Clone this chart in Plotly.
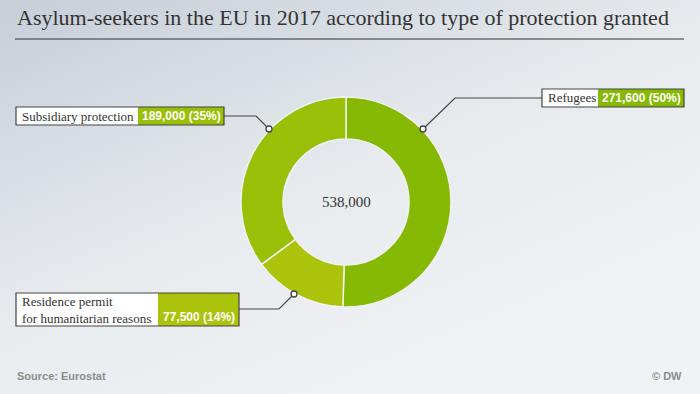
import math
import plotly.graph_objects as go

# ---- data ----
categories = ["Refugees", "Residence permit<br>for humanitarian reasons", "Subsidiary protection"]
values = [271600, 77500, 189000]
value_labels = ["271,600 (50%)", "77,500 (14%)", "189,000 (35%)"]
total_label = "538,000"
colors = ["#86b904", "#abc30b", "#99bf06"]

W, H = 700, 394
CX, CY, R_OUT, HOLE = 346, 202, 105, 0.6

def px(x):
    return x / W

def py(y):
    return 1 - y / H

fig = go.Figure()

# background gradient via SVG data URI
svg = ("<svg xmlns='http://www.w3.org/2000/svg' width='700' height='394'>"
       "<defs><linearGradient id='g' x1='0' y1='0' x2='0.75' y2='1'>"
       "<stop offset='0' stop-color='%23c6ced8'/>"
       "<stop offset='0.55' stop-color='%23e9ecef'/>"
       "<stop offset='1' stop-color='%23f1f2f4'/>"
       "</linearGradient></defs>"
       "<rect width='700' height='394' fill='url(%23g)'/></svg>")
fig.add_layout_image(dict(source="data:image/svg+xml;utf8," + svg, xref="paper", yref="paper",
                          x=0, y=1, sizex=1, sizey=1, sizing="stretch", layer="below",
                          xanchor="left", yanchor="top"))

fig.add_trace(go.Pie(
    labels=categories, values=values, sort=False, direction="clockwise", rotation=0,
    hole=HOLE, marker=dict(colors=colors, line=dict(color="#f0f2f4", width=1.5)),
    textinfo="none", hoverinfo="skip", showlegend=False,
    domain=dict(x=[px(CX - R_OUT), px(CX + R_OUT)], y=[py(CY + R_OUT), py(CY - R_OUT)]),
))

shapes = []
annotations = []

# title
annotations.append(dict(text="Asylum-seekers in the EU in 2017 according to type of protection granted",
                        x=px(15), y=py(32), xref="paper", yref="paper", xanchor="left", yanchor="bottom",
                        showarrow=False, font=dict(family="Liberation Serif", size=22, color="#333333")))
shapes.append(dict(type="line", xref="paper", yref="paper", x0=px(15), x1=px(684), y0=py(39), y1=py(39),
                   line=dict(color="#333333", width=1.2)))

# center label
annotations.append(dict(text=total_label, x=px(CX), y=py(CY), xref="paper", yref="paper",
                        showarrow=False, font=dict(family="Liberation Serif", size=15, color="#333333")))

specs = [
    (0, 542, 89, 107, 598, 684, [(542, 98), (455, 98), (423, 129)]),
    (1, 16, 293, 326, 158, 239, [(239, 309), (279, 309), (294, 294)]),
    (2, 16, 107, 125, 138, 224, [(224, 116), (256, 116), (269, 129)]),
]
for i, bl, bt, bb, vl, vr, pts in specs:
    path = "M " + " L ".join(f"{px(x)},{py(y)}" for x, y in pts)
    shapes.append(dict(type="path", xref="paper", yref="paper", path=path,
                       line=dict(color="#444444", width=1.2)))
    ax, ay = pts[-1]
    shapes.append(dict(type="circle", xref="paper", yref="paper",
                       x0=px(ax - 3), x1=px(ax + 3), y0=py(ay + 3), y1=py(ay - 3),
                       fillcolor="white", line=dict(color="#444444", width=1.3)))
    shapes.append(dict(type="rect", xref="paper", yref="paper", x0=px(bl), x1=px(vl), y0=py(bb), y1=py(bt),
                       fillcolor="white", line=dict(width=0)))
    shapes.append(dict(type="rect", xref="paper", yref="paper", x0=px(vl), x1=px(vr), y0=py(bb), y1=py(bt),
                       fillcolor=colors[i], line=dict(width=0)))
    shapes.append(dict(type="rect", xref="paper", yref="paper", x0=px(bl), x1=px(vr), y0=py(bb), y1=py(bt),
                       fillcolor="rgba(0,0,0,0)", line=dict(color="#444444", width=1.2)))
    annotations.append(dict(text=categories[i], x=px(bl + 4), y=py((bt + bb) / 2), xref="paper", yref="paper",
                            xanchor="left", yanchor="middle", align="left", showarrow=False,
                            font=dict(family="Liberation Serif", size=13, color="#333333")))
    vy = (bt + bb) / 2 if i != 1 else bb - 9
    annotations.append(dict(text="<b>" + value_labels[i] + "</b>", x=px((vl + vr) / 2), y=py(vy),
                            xref="paper", yref="paper", xanchor="center", yanchor="middle", showarrow=False,
                            font=dict(family="Liberation Sans", size=12, color="white")))

# footer
annotations.append(dict(text="<b>Source: Eurostat</b>", x=px(15), y=py(376), xref="paper", yref="paper",
                        xanchor="left", yanchor="middle", showarrow=False,
                        font=dict(family="Liberation Sans", size=11, color="#8c8c8c")))
annotations.append(dict(text="<b>© DW</b>", x=px(684), y=py(376), xref="paper", yref="paper",
                        xanchor="right", yanchor="middle", showarrow=False,
                        font=dict(family="Liberation Sans", size=11, color="#8c8c8c")))

fig.update_layout(width=W, height=H, margin=dict(l=0, r=0, t=0, b=0),
                  paper_bgcolor="#f0f1f3", plot_bgcolor="rgba(0,0,0,0)",
                  shapes=shapes, annotations=annotations)

fig.write_html("out.html", config={"displayModeBar": False},
               post_script="document.body.style.margin='0';document.body.style.padding='0';"
                           "document.body.style.overflow='hidden';")
